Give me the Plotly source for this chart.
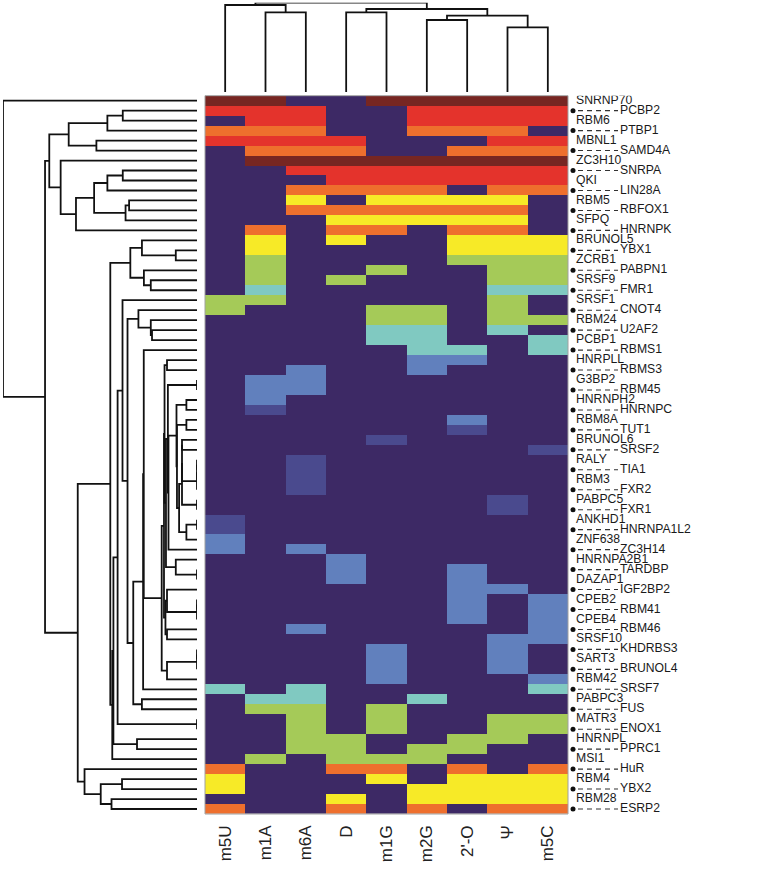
import numpy as np
import plotly.graph_objects as go

# Columns (RNA modifications) and rows (RNA-binding proteins), top to bottom
modifications = ["m5U", "m1A", "m6A", "D", "m1G", "m2G", "2'-O", "Ψ", "m5C"]
proteins = [
    "SNRNP70", "PCBP2", "RBM6", "PTBP1", "MBNL1", "SAMD4A", "ZC3H10", "SNRPA",
    "QKI", "LIN28A", "RBM5", "RBFOX1", "SFPQ", "HNRNPK", "BRUNOL5", "YBX1",
    "ZCRB1", "PABPN1", "SRSF9", "FMR1", "SRSF1", "CNOT4", "RBM24", "U2AF2",
    "PCBP1", "RBMS1", "HNRPLL", "RBMS3", "G3BP2", "RBM45", "HNRNPH2", "HNRNPC",
    "RBM8A", "TUT1", "BRUNOL6", "SRSF2", "RALY", "TIA1", "RBM3", "FXR2",
    "PABPC5", "FXR1", "ANKHD1", "HNRNPA1L2", "ZNF638", "ZC3H14", "HNRNPA2B1", "TARDBP",
    "DAZAP1", "IGF2BP2", "CPEB2", "RBM41", "CPEB4", "RBM46", "SRSF10", "KHDRBS3",
    "SART3", "BRUNOL4", "RBM42", "SRSF7", "PABPC3", "FUS", "MATR3", "ENOX1",
    "HNRNPL", "PPRC1", "MSI1", "HuR", "RBM4", "YBX2", "RBM28", "ESRP2",
]

# Score level (0-8) per protein, one list per modification column
m5U = [8, 7, 0, 6, 7, 0, 0, 0, 0, 0,  0, 0, 0, 0, 0, 0, 0, 0, 0, 0,
       4, 4, 0, 0, 0, 0, 0, 0, 0, 0,  0, 0, 0, 0, 0, 0, 0, 0, 0, 0,
       0, 0, 1, 1, 2, 2, 0, 0, 0, 0,  0, 0, 0, 0, 0, 0, 0, 0, 0, 3,
       0, 0, 0, 0, 0, 0, 0, 6, 5, 5,  0, 6]
m1A = [8, 7, 7, 6, 7, 6, 8, 0, 0, 0,  0, 0, 0, 6, 5, 5, 4, 4, 4, 3,
       4, 0, 0, 0, 0, 0, 0, 0, 2, 2,  2, 1, 0, 0, 0, 0, 0, 0, 0, 0,
       0, 0, 0, 0, 0, 0, 0, 0, 0, 0,  0, 0, 0, 0, 0, 0, 0, 0, 0, 0,
       3, 4, 0, 0, 0, 0, 4, 0, 0, 0,  0, 0]
m6A = [0, 7, 7, 6, 7, 6, 8, 7, 0, 6,  5, 6, 0, 0, 0, 0, 0, 0, 0, 0,
       0, 0, 0, 0, 0, 0, 0, 2, 2, 2,  0, 0, 0, 0, 0, 0, 1, 1, 1, 1,
       0, 0, 0, 0, 0, 2, 0, 0, 0, 0,  0, 0, 0, 2, 0, 0, 0, 0, 0, 3,
       3, 4, 4, 4, 4, 4, 0, 0, 0, 0,  0, 0]
D = [0, 0, 0, 0, 7, 6, 8, 7, 7, 6,  0, 6, 5, 6, 5, 0, 0, 0, 4, 0,
     0, 0, 0, 0, 0, 0, 0, 0, 0, 0,  0, 0, 0, 0, 0, 0, 0, 0, 0, 0,
     0, 0, 0, 0, 0, 0, 2, 2, 2, 0,  0, 0, 0, 0, 0, 0, 0, 0, 0, 0,
     0, 0, 0, 0, 4, 4, 4, 6, 0, 0,  5, 6]
m1G = [8, 0, 0, 0, 0, 0, 8, 7, 7, 6,  5, 6, 5, 6, 0, 0, 0, 4, 0, 0,
       0, 4, 4, 3, 3, 0, 0, 0, 0, 0,  0, 0, 0, 0, 1, 0, 0, 0, 0, 0,
       0, 0, 0, 0, 0, 0, 0, 0, 0, 0,  0, 0, 0, 0, 0, 2, 2, 2, 2, 0,
       0, 4, 4, 4, 0, 0, 4, 6, 5, 0,  0, 0]
m2G = [8, 7, 7, 6, 0, 0, 8, 7, 7, 6,  5, 6, 5, 0, 0, 0, 0, 0, 0, 0,
       0, 4, 4, 3, 3, 3, 2, 2, 0, 0,  0, 0, 0, 0, 0, 0, 0, 0, 0, 0,
       0, 0, 0, 0, 0, 0, 0, 0, 0, 0,  0, 0, 0, 0, 0, 0, 0, 0, 0, 0,
       3, 0, 0, 0, 0, 4, 4, 0, 0, 5,  5, 6]
two_o = [8, 7, 7, 6, 0, 6, 8, 7, 7, 0,  5, 6, 5, 6, 5, 5, 4, 0, 0, 0,
         0, 0, 0, 0, 0, 3, 2, 0, 0, 0,  0, 0, 2, 1, 0, 0, 0, 0, 0, 0,
         0, 0, 0, 0, 0, 0, 0, 2, 2, 2,  2, 2, 2, 0, 0, 0, 0, 0, 0, 0,
         0, 0, 0, 0, 4, 4, 0, 6, 5, 5,  5, 0]
psi = [8, 7, 7, 6, 7, 6, 8, 7, 7, 6,  5, 6, 5, 6, 5, 5, 4, 4, 4, 3,
       4, 4, 4, 3, 0, 0, 0, 0, 0, 0,  0, 0, 0, 0, 0, 0, 0, 0, 0, 0,
       1, 1, 0, 0, 0, 0, 0, 0, 0, 2,  0, 0, 0, 0, 2, 2, 2, 2, 0, 0,
       0, 0, 4, 4, 4, 0, 0, 0, 5, 5,  5, 6]
m5C = [8, 7, 7, 0, 7, 6, 8, 7, 7, 6,  0, 0, 0, 0, 5, 5, 4, 4, 4, 3,
       0, 0, 4, 0, 3, 3, 0, 0, 0, 0,  0, 0, 0, 0, 0, 1, 0, 0, 0, 0,
       0, 0, 0, 0, 0, 0, 0, 0, 0, 0,  2, 2, 2, 2, 2, 0, 0, 0, 2, 3,
       0, 0, 4, 4, 0, 0, 0, 6, 5, 5,  5, 6]

# Column dendrogram merges: (left, right, height)
# leaves are 0..8, merged clusters are numbered 9, 10, ...
col_merges = [(1, 2, 79.7), (0, 9, 87.0), (3, 4, 79.7), (5, 6, 72.0),
              (7, 8, 64.7), (12, 13, 76.3), (11, 14, 83.0), (10, 15, 89.3)]

level_colors = ["#3d2965", "#4a4a8e", "#6180bd", "#80c9c1", "#a5ca58",
                "#f7ea27", "#ee6f2d", "#e4332c", "#772622"]

z = np.column_stack([m5U, m1A, m6A, D, m1G, m2G, two_o, psi, m5C]).astype(float)
n_rows, n_cols = z.shape
rows = list(range(n_rows))


def row_dendrogram(data):
    # average linkage (euclidean), merging neighbours in the displayed order
    dist = np.sqrt(((data[:, None, :] - data[None, :, :]) ** 2).sum(-1))
    clusters = [dict(members=[i], pos=float(i), h=0.0) for i in range(len(data))]
    xs, ys = [], []
    while len(clusters) > 1:
        best, k_best = None, 0
        for k in range(len(clusters) - 1):
            d = dist[np.ix_(clusters[k]["members"], clusters[k + 1]["members"])].mean()
            if best is None or d < best - 1e-9:
                best, k_best = d, k
        a, b = clusters[k_best], clusters[k_best + 1]
        xs += [a["h"], best, best, b["h"], None]
        ys += [a["pos"], a["pos"], b["pos"], b["pos"], None]
        clusters[k_best:k_best + 2] = [dict(members=a["members"] + b["members"],
                                            pos=(a["pos"] + b["pos"]) / 2, h=best)]
    return xs, ys, clusters[0]["h"]


row_x, row_y, row_top = row_dendrogram(z)

# column dendrogram segments
nodes = {i: (float(i), 0.0) for i in range(n_cols)}
col_x, col_y = [], []
for idx, (a, b, h) in enumerate(col_merges):
    (pa, ha), (pb, hb) = nodes[a], nodes[b]
    col_x += [pa, pa, pb, pb, None]
    col_y += [ha, h, h, hb, None]
    nodes[n_cols + idx] = ((pa + pb) / 2, h)
col_top = col_merges[-1][2]

n_lev = len(level_colors)
colorscale = []
for k, c in enumerate(level_colors):
    colorscale += [[k / n_lev, c], [(k + 1) / n_lev, c]]

W, H = 768, 876


def px(x):
    return x / W


def py(y):
    return 1 - y / H


font = "Liberation Sans, Arial, Helvetica, sans-serif"

fig = go.Figure()
fig.add_trace(go.Heatmap(z=z, x=list(range(n_cols)), y=rows, colorscale=colorscale,
                         zmin=-0.5, zmax=n_lev - 0.5, showscale=False, hoverinfo="skip"))

fig.add_trace(go.Scatter(x=row_x, y=row_y, mode="lines", xaxis="x2", yaxis="y",
                         line=dict(color="#111111", width=1.8), hoverinfo="skip"))
fig.add_trace(go.Scatter(x=col_x, y=col_y, mode="lines", xaxis="x", yaxis="y2",
                         line=dict(color="#111111", width=1.8), hoverinfo="skip"))

# row labels: alternate plain labels and dotted / dashed leaders
odd = rows[0::2]
even = rows[1::2]
dash_x, dash_y = [], []
for r in even:
    dash_x += [10, 50, None]
    dash_y += [r, r, None]
fig.add_trace(go.Scatter(x=dash_x, y=dash_y, mode="lines", xaxis="x3", yaxis="y",
                         line=dict(color="#333333", width=1.1, dash="5px,4px"),
                         hoverinfo="skip"))
fig.add_trace(go.Scatter(x=[5] * len(even), y=even, mode="markers", xaxis="x3", yaxis="y",
                         marker=dict(color="#111111", size=5), hoverinfo="skip"))
fig.add_trace(go.Scatter(x=[8] * len(odd), y=odd, mode="text", xaxis="x3", yaxis="y",
                         text=[proteins[r] for r in odd], textposition="middle right",
                         textfont=dict(family=font, size=12.2, color="#1a1a1a"),
                         hoverinfo="skip"))
fig.add_trace(go.Scatter(x=[52] * len(even), y=even, mode="text", xaxis="x3", yaxis="y",
                         text=[proteins[r] for r in even], textposition="middle right",
                         textfont=dict(family=font, size=12.2, color="#1a1a1a"),
                         hoverinfo="skip"))

hidden = dict(showgrid=False, zeroline=False, showticklabels=False, ticks="",
              showline=False)

fig.update_layout(
    width=W, height=H,
    margin=dict(l=0, r=0, t=0, b=0, pad=0),
    paper_bgcolor="white", plot_bgcolor="rgba(0,0,0,0)",
    showlegend=False,
    xaxis=dict(domain=[px(205), px(568)], range=[-0.5, n_cols - 0.5], tickmode="array",
               tickvals=list(range(n_cols)), ticktext=modifications, tickangle=-90,
               tickfont=dict(family=font, size=17, color="#222222"), ticklabelstandoff=7,
               showgrid=False, zeroline=False, ticks="", showline=False, anchor="y"),
    yaxis=dict(domain=[py(814), py(95.7)], range=[n_rows - 0.5, -0.5], anchor="x", **hidden),
    xaxis2=dict(domain=[px(3), px(197)], range=[row_top, 0], anchor="y", **hidden),
    xaxis3=dict(domain=[px(568), 1], range=[0, W - 568], anchor="y", **hidden),
    yaxis2=dict(domain=[py(92), py(2.7)], range=[0, col_top], anchor="x", **hidden),
    shapes=[dict(type="rect", xref="x domain", yref="y domain", x0=0, x1=1, y0=0, y1=1,
                 line=dict(color="#a0a0a0", width=1))],
)

# drop the page's default body margin so the figure sits at the window corner
fig.write_html("out.html", config={"displayModeBar": False},
               post_script="document.body.style.margin = '0px';")
